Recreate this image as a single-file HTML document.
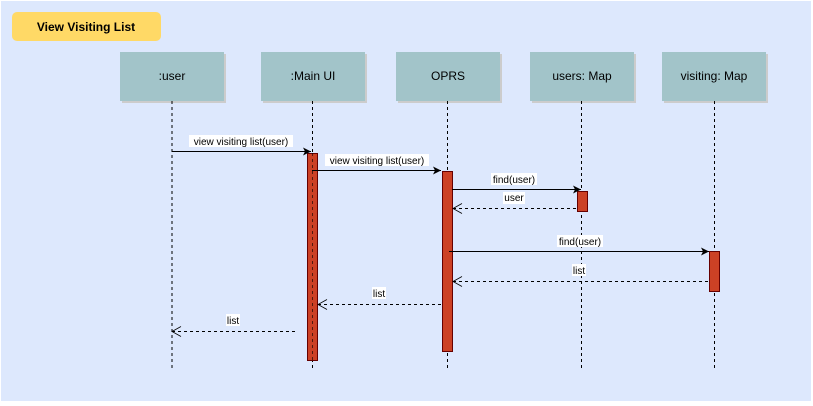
<!DOCTYPE html>
<html><head><style>body{margin:0;background:#fff}svg{display:block}text{font-family:"Liberation Sans",sans-serif}</style></head><body>
<svg width="813" height="406" viewBox="0 0 813 406" xmlns="http://www.w3.org/2000/svg">
<defs>
<marker id="f" markerWidth="10" markerHeight="10" refX="9" refY="5" orient="auto" markerUnits="userSpaceOnUse"><path d="M1,1 L9,5 L1,9 L3,5 Z" fill="#000"/></marker>
<marker id="o" markerWidth="12" markerHeight="12" refX="1" refY="6" orient="auto" markerUnits="userSpaceOnUse"><path d="M10,1 L1,6 L10,11" fill="none" stroke="#000" stroke-width="0.8"/></marker>
</defs>
<rect x="1" y="1" width="810" height="400" fill="#dde8fd"/>
<rect x="12" y="12" width="149" height="29" rx="5" fill="#ffd966"/>
<text x="86" y="31" font-size="12" font-weight="bold" text-anchor="middle">View Visiting List</text>
<g font-size="12" text-anchor="middle">
<rect x="122" y="54" width="104" height="49" fill="#ccc"/><rect x="120" y="52" width="104" height="49" fill="#a2c4c9"/><text x="172" y="80">:user</text>
<rect x="263" y="54" width="104" height="49" fill="#ccc"/><rect x="261" y="52" width="104" height="49" fill="#a2c4c9"/><text x="313" y="80">:Main UI</text>
<rect x="398" y="54" width="104" height="49" fill="#ccc"/><rect x="396" y="52" width="104" height="49" fill="#a2c4c9"/><text x="448" y="80">OPRS</text>
<rect x="532" y="54" width="104" height="49" fill="#ccc"/><rect x="530" y="52" width="104" height="49" fill="#a2c4c9"/><text x="582" y="80">users: Map</text>
<rect x="664" y="54" width="104" height="49" fill="#ccc"/><rect x="662" y="52" width="104" height="49" fill="#a2c4c9"/><text x="714" y="80">visiting: Map</text>
</g>
<g stroke="#000" stroke-dasharray="3,3" stroke-width="1">
<line x1="172" y1="101" x2="172" y2="370"/><line x1="312.5" y1="101" x2="312.5" y2="370"/><line x1="447.5" y1="101" x2="447.5" y2="370"/><line x1="581.5" y1="101" x2="581.5" y2="370"/><line x1="714.5" y1="101" x2="714.5" y2="370"/>
</g>
<g fill="#cc4125" stroke="#660000" stroke-width="1">
<rect x="307.5" y="153.5" width="10" height="207"/>
<rect x="442.5" y="171.5" width="10" height="180"/>
<rect x="577.5" y="191.5" width="10" height="20"/>
<rect x="709.5" y="251.5" width="10" height="40"/>
</g>
<line x1="312.5" y1="153" x2="312.5" y2="361" stroke="#000" stroke-dasharray="3,3" opacity="0.6"/>
<g stroke="#000" stroke-width="1" fill="none">
<line x1="172" y1="151.5" x2="311" y2="151.5" marker-end="url(#f)"/>
<line x1="312" y1="170.5" x2="441" y2="170.5" marker-end="url(#f)"/>
<line x1="452" y1="189.5" x2="581" y2="189.5" marker-end="url(#f)"/>
<line x1="449" y1="251.5" x2="709" y2="251.5" marker-end="url(#f)"/>
<g stroke-dasharray="3,3">
<line x1="453" y1="208.5" x2="577" y2="208.5" marker-start="url(#o)"/>
<line x1="453" y1="281.5" x2="709" y2="281.5" marker-start="url(#o)"/>
<line x1="318" y1="304.5" x2="442" y2="304.5" marker-start="url(#o)"/>
<line x1="172" y1="331.5" x2="296" y2="331.5" marker-start="url(#o)"/>
</g></g>
<g font-size="10" text-anchor="middle">
<rect x="189" y="135" width="104" height="12" fill="#fff"/><text x="241" y="145">view visiting list(user)</text>
<rect x="325" y="154" width="104" height="12" fill="#fff"/><text x="377" y="164">view visiting list(user)</text>
<rect x="491" y="173" width="46" height="12" fill="#fff"/><text x="514" y="183">find(user)</text>
<rect x="503" y="192" width="22" height="12" fill="#fff"/><text x="514" y="201">user</text>
<rect x="557" y="235" width="46" height="12" fill="#fff"/><text x="580" y="245">find(user)</text>
<rect x="572" y="264" width="14" height="12" fill="#fff"/><text x="579" y="274">list</text>
<rect x="372" y="287" width="14" height="12" fill="#fff"/><text x="379" y="297">list</text>
<rect x="226" y="314" width="14" height="12" fill="#fff"/><text x="233" y="324">list</text>
</g>
</svg>
</body></html>
